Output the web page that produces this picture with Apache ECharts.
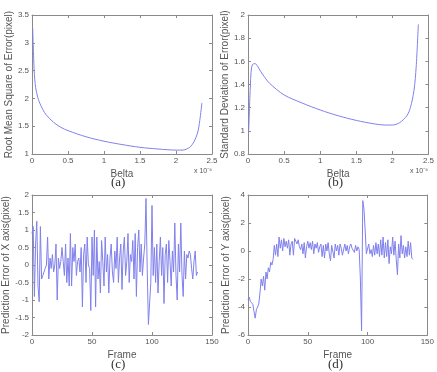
<!DOCTYPE html>
<html><head><meta charset="utf-8">
<script src="https://cdn.jsdelivr.net/npm/echarts@6/dist/echarts.min.js"></script>
<style>html,body{margin:0;padding:0;background:#fff}#c{width:437px;height:372px}</style>
</head><body><div id="c"></div>
<script>
// (a) RMS error vs Belta (x 10^-6)
const beltaA = [0.01,0.03,0.05,0.08,0.1,0.15,0.2,0.3,0.4,0.5,0.75,1.0,1.25,1.5,1.75,2.0,2.1,2.15,2.2,2.25,2.3,2.33,2.36];
const rmsA   = [3.26,2.5,2.2,2.02,1.94,1.8,1.7,1.57,1.48,1.42,1.31,1.23,1.17,1.12,1.09,1.07,1.07,1.09,1.13,1.22,1.38,1.6,1.92];
// (b) Std deviation vs Belta
const beltaB = [0.01,0.03,0.05,0.08,0.1,0.12,0.15,0.2,0.3,0.5,0.75,1.0,1.25,1.5,1.75,1.9,2.0,2.1,2.2,2.25,2.3,2.33,2.36];
const stdB   = [1.0,1.35,1.55,1.58,1.58,1.57,1.54,1.49,1.41,1.31,1.24,1.18,1.13,1.09,1.06,1.05,1.05,1.07,1.13,1.2,1.35,1.55,1.92];
// (c) Prediction error X per frame
const errX = [0.9,1.1,-0.9,0.6,1.25,-0.6,-1.05,1.1,-0.4,-0.3,-0.2,-0.1,0.0,0.8,-0.4,0.2,-0.1,0.3,-0.2,0.0,
 0.6,-1.0,0.2,-0.1,0.1,0.5,0.1,-0.3,0.6,-0.5,0.2,-0.6,0.9,-0.6,0.5,0.1,0.6,-0.3,0.1,0.2,
 -0.2,0.5,-1.2,0.3,0.6,-0.5,0.8,0.0,-0.1,-1.3,0.8,-0.3,1.0,-1.2,0.8,-0.4,0.1,-0.8,0.7,0.1,
 -0.6,0.8,-0.2,0.3,-0.8,0.2,0.6,-0.2,-0.5,0.4,-0.1,0.8,-0.5,0.2,0.6,-0.7,0.4,0.8,-0.3,0.1,
 0.9,-0.5,0.3,0.1,0.7,-0.4,0.9,-0.9,0.5,1.0,-0.2,0.6,-0.3,0.2,0.6,1.9,-0.1,-1.7,-1.7,-0.5,
 1.7,-0.3,0.5,-0.5,0.6,-0.8,0.1,0.8,-0.3,0.5,-1.1,0.3,0.6,-0.5,0.7,0.1,-0.6,0.4,-0.2,1.2,
 -0.3,-1.0,0.6,-0.2,1.2,-0.3,-0.9,0.4,-0.4,0.3,0.2,0.4,0.3,-0.1,-0.4,0.1,0.4,-0.3,-0.2];
// (d) Prediction error Y per frame
const errY = [-3.5,-3.3,-3.6,-3.7,-3.8,-4.3,-4.8,-4.2,-4.0,-3.8,-3.0,-2.0,-2.5,-1.8,-2.8,-1.5,-2.0,-1.2,-1.5,-0.8,
 -1.0,-0.6,0.4,-0.3,0.5,-0.4,1.0,0.2,0.8,0.0,0.9,0.3,0.7,0.2,0.8,-0.3,0.5,0.7,-0.3,0.9,
 1.0,0.5,0.8,0.3,0.1,0.5,-0.2,0.6,-0.5,0.3,0.7,0.2,0.6,0.1,0.7,-0.2,0.5,0.2,0.6,-0.1,
 0.3,0.5,-0.4,0.4,-0.5,0.5,0.0,0.6,-0.2,-0.7,0.4,0.3,-0.5,0.5,0.0,0.4,-0.3,0.5,0.2,-0.3,
 -0.2,0.5,0.0,0.4,-0.2,0.3,0.5,0.2,0.1,-0.1,0.4,0.0,0.3,0.1,-2.0,-5.7,3.6,3.0,1.5,-0.2,
 -0.3,0.5,-0.2,0.1,-0.4,0.4,-0.3,0.6,-0.2,0.5,-0.4,0.8,-0.3,1.0,-0.5,0.6,-0.4,0.8,-0.9,0.3,
 -0.2,1.0,-0.3,0.7,-0.6,-1.7,0.5,-0.5,1.1,-0.2,0.4,-0.5,0.3,-0.4,0.7,-0.3,0.6,-0.5,-0.6];

const frames = errX.map((_, i) => i);
const pairs = (xs, ys) => xs.map((x, i) => [x, ys[i]]);

const AX = '#8a8a8a', TXT = '#555', LINE = '#8080ec';
const grids = [
  {left: 32, top: 15, width: 180, height: 139},
  {left: 248, top: 15, width: 181, height: 139},
  {left: 32, top: 195, width: 180, height: 140},
  {left: 248, top: 195, width: 180, height: 140}
];
const xs = [
  {min: 0, max: 2.5, interval: 0.5, name: 'Belta'},
  {min: 0, max: 2.5, interval: 0.5, name: 'Belta'},
  {min: 0, max: 150, interval: 50, name: 'Frame'},
  {min: 0, max: 150, interval: 50, name: 'Frame'}
];
const ys = [
  {min: 1, max: 3.5, interval: 0.5, name: 'Root Mean Square of Error(pixel)'},
  {min: 0.8, max: 2, interval: 0.2, name: 'Standard Deviation of Error(pixel)'},
  {min: -2, max: 2, interval: 0.5, name: 'Prediction Error of X axis(pixel)'},
  {min: -6, max: 4, interval: 2, name: 'Prediction Error of Y axis(pixel)'}
];
const xAxis = [], yAxis = [];
xs.forEach((a, i) => {
  xAxis.push({type: 'value', gridIndex: i, position: 'bottom', min: a.min, max: a.max, interval: a.interval,
    name: a.name, nameLocation: 'middle', nameGap: 15,
    nameTextStyle: {fontFamily: 'Arial', fontSize: 10, color: TXT},
    axisLine: {onZero: false, lineStyle: {color: AX}}, axisTick: {inside: true, length: 3, lineStyle: {color: AX}},
    axisLabel: {fontFamily: 'Arial', fontSize: 8, color: TXT, margin: 3}, splitLine: {show: false}});
  xAxis.push({type: 'value', gridIndex: i, position: 'top', min: a.min, max: a.max, interval: a.interval,
    axisLine: {onZero: false, lineStyle: {color: AX}}, axisTick: {inside: true, length: 3, lineStyle: {color: AX}},
    axisLabel: {show: false}, splitLine: {show: false}});
});
ys.forEach((a, i) => {
  yAxis.push({type: 'value', gridIndex: i, position: 'left', min: a.min, max: a.max, interval: a.interval,
    name: a.name, nameLocation: 'middle', nameGap: 17,
    nameTextStyle: {fontFamily: 'Arial', fontSize: 10, color: TXT},
    axisLine: {show: true, onZero: false, lineStyle: {color: AX}}, axisTick: {show: true, inside: true, length: 3, lineStyle: {color: AX}},
    axisLabel: {fontFamily: 'Arial', fontSize: 8, color: TXT, margin: 3}, splitLine: {show: false}});
  yAxis.push({type: 'value', gridIndex: i, position: 'right', min: a.min, max: a.max, interval: a.interval,
    axisLine: {show: true, onZero: false, lineStyle: {color: AX}}, axisTick: {show: true, inside: true, length: 3, lineStyle: {color: AX}},
    axisLabel: {show: false}, splitLine: {show: false}});
});
const mk = (i, data, smooth) => ({type: 'line', xAxisIndex: i * 2, yAxisIndex: i * 2, data: data,
  showSymbol: false, smooth: smooth, lineStyle: {color: LINE, width: 1}, animation: false});

const cap = (x, y, t) => ({type: 'text', left: x, top: y, style: {text: t, font: '13px "Liberation Serif", serif', fill: '#333'}});
const expo = (x, y) => ({type: 'text', left: x, top: y, style: {text: 'x 10⁻⁶', font: '7px Arial', fill: TXT}});

const chart = echarts.init(document.getElementById('c'), null, {renderer: 'canvas'});
chart.setOption({
  animation: false,
  grid: grids,
  xAxis: xAxis,
  yAxis: yAxis,
  series: [
    mk(0, pairs(beltaA, rmsA), 0.3),
    mk(1, pairs(beltaB, stdB), 0.3),
    mk(2, pairs(frames, errX), false),
    mk(3, pairs(frames, errY), false)
  ],
  graphic: [
    cap(111, 176, '(a)'), cap(328, 176, '(b)'), cap(111, 358, '(c)'), cap(328, 358, '(d)'),
    expo(194, 168), expo(410, 168)
  ]
});
</script></body></html>
